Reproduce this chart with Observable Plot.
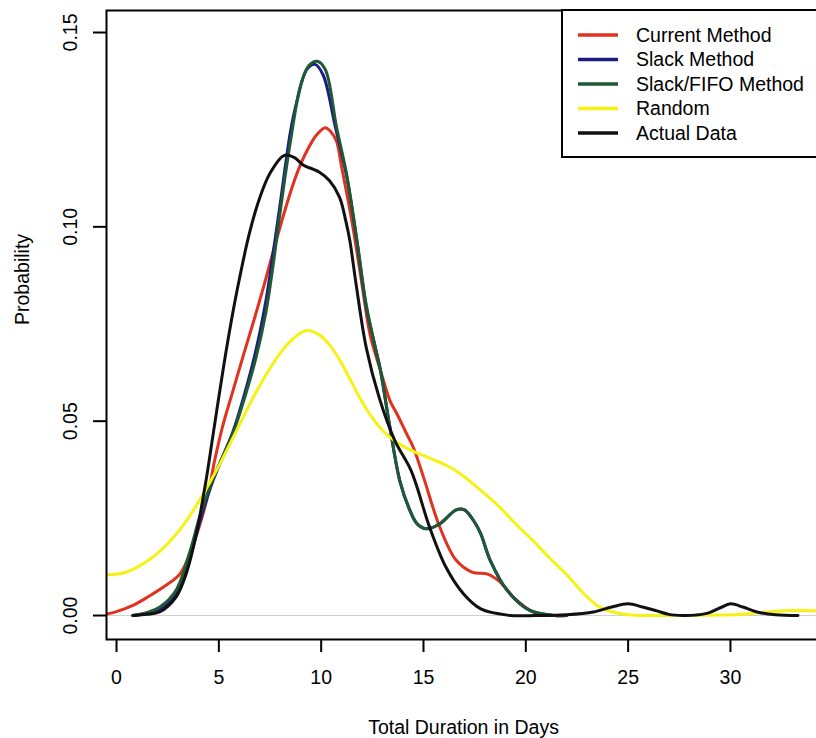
<!DOCTYPE html>
<html>
<head>
<meta charset="utf-8">
<script src="https://cdn.jsdelivr.net/npm/d3@7"></script>
<script src="https://cdn.jsdelivr.net/npm/@observablehq/plot@0.6"></script>
<style>
  html, body { margin: 0; padding: 0; background: #fff; overflow: hidden; }
  #wrap { position: relative; width: 822px; height: 738px; overflow: hidden; }
  #legend { position: absolute; left: 561px; top: 9px; }
</style>
</head>
<body>
<div id="wrap"><div id="chart"></div><svg id="legend" width="262" height="150"></svg></div>
<script>
const FONT = '"Liberation Sans", Arial, Helvetica, sans-serif';

// Series names and colours (legend order)
const seriesNames = ["Current Method", "Slack Method", "Slack/FIFO Method", "Random", "Actual Data"];
const seriesColors = ["#e0321f", "#1c1c86", "#1f5a33", "#f7f215", "#111111"];

// Axis ticks
const xTicks = [0, 5, 10, 15, 20, 25, 30];
const yTicks = [0, 0.05, 0.10, 0.15];
const xTitle = "Total Duration in Days";
const yTitle = "Probability";
const xDomain = [-0.49, 34.4];
const yDomain = [-0.00617, 0.15566];

// Density curves: [days, probability]
const currentMethod = [
  [-0.49,0.0004],[0,0.001],[0.8,0.0026],[1.6,0.005],[2.4,0.0077],[3.1,0.0107],[3.7,0.0176],
  [4.4,0.0296],[4.8,0.040],[5.2,0.049],[5.7,0.058],[6.2,0.067],[6.7,0.0757],[7.2,0.0848],
  [7.7,0.0945],[8.3,0.1055],[8.8,0.1135],[9.3,0.1195],[9.8,0.1238],[10.2,0.1255],[10.5,0.1243],
  [10.75,0.122],[11.0,0.1154],[11.5,0.1015],[12.0,0.085],[12.4,0.072],[12.9,0.063],[13.36,0.0553],
  [13.7,0.0519],[14.18,0.0467],[14.5,0.0433],[15.0,0.0356],[15.8,0.0227],[16.6,0.0142],[17.4,0.0111],
  [18.1,0.0107],[18.75,0.0086],[19.4,0.0047],[20.5,0.0005],[21.5,0],[22,0]
];
const slackMethod = [
  [0.8,0],[1.5,0.0006],[2.1,0.0016],[2.9,0.0055],[3.6,0.015],[4.06,0.024],[4.7,0.0345],[5.2,0.041],
  [5.7,0.0475],[6.2,0.056],[6.8,0.068],[7.3,0.081],[7.7,0.095],[8.0,0.106],[8.5,0.1245],[8.8,0.132],
  [9.3,0.1405],[9.7,0.1418],[10.1,0.139],[10.7,0.1255],[11.24,0.1132],[11.75,0.0962],[12.2,0.0795],
  [12.6,0.070],[12.9,0.063],[13.36,0.0483],[13.85,0.0345],[14.3,0.0275],[14.7,0.0235],[15.16,0.0223],
  [15.8,0.0236],[16.6,0.0272],[17.0,0.0272],[17.5,0.024],[17.8,0.021],[18.26,0.0142],[19.1,0.0064],
  [20.2,0.0013],[21.4,0],[22,0]
];
const slackFifoMethod = [
  [0.8,0],[1.5,0.0008],[2.1,0.0021],[2.9,0.0064],[3.6,0.0167],[4.06,0.0253],[4.7,0.035],[5.2,0.041],
  [5.7,0.047],[6.2,0.055],[6.8,0.066],[7.3,0.078],[7.7,0.092],[8.0,0.104],[8.5,0.122],[9.0,0.1365],
  [9.4,0.1415],[9.8,0.1426],[10.2,0.1405],[10.75,0.1257],[11.24,0.1136],[11.75,0.0965],[12.2,0.080],
  [12.6,0.070],[12.9,0.063],[13.36,0.0485],[13.85,0.0345],[14.3,0.0275],[14.7,0.0235],[15.16,0.0223],
  [15.8,0.0236],[16.6,0.0272],[17.0,0.0272],[17.5,0.024],[17.8,0.021],[18.26,0.0142],[19.1,0.0064],
  [20.2,0.0013],[21.4,0],[22,0]
];
const randomMethod = [
  [-0.49,0.0105],[0,0.0106],[0.5,0.0112],[1.0,0.0124],[1.5,0.014],[2.0,0.016],[2.5,0.0185],[3.0,0.0215],
  [3.5,0.025],[4.0,0.0292],[4.5,0.0337],[5.0,0.0385],[5.5,0.0437],[6.0,0.049],[6.5,0.0543],[7.0,0.0592],
  [7.5,0.0636],[8.0,0.0675],[8.5,0.0706],[9.0,0.0727],[9.3,0.0733],[9.9,0.0722],[10.4,0.0697],
  [10.9,0.0658],[11.4,0.0609],[11.9,0.0559],[12.4,0.0516],[12.9,0.0482],[13.4,0.0457],[13.9,0.0439],
  [14.4,0.0425],[15.3,0.0405],[16.2,0.0384],[16.8,0.0365],[17.8,0.0322],[18.7,0.028],[19.5,0.0236],
  [20.4,0.019],[21.2,0.0146],[22.0,0.0105],[22.8,0.0058],[23.5,0.0025],[24.0,0.0013],[24.6,0.0005],
  [25.3,0.0001],[26.5,0],[27.7,0],[29.0,0.0001],[30.2,0.0002],[31.0,0.0005],[31.8,0.0009],[32.6,0.0012],
  [33.4,0.0013],[34.4,0.0012]
];
const actualData = [
  [0.8,0],[1.5,0.0003],[2.1,0.0009],[2.9,0.0047],[3.4,0.0107],[3.9,0.021],[4.4,0.0356],[4.7,0.0459],
  [5.2,0.063],[5.6,0.0755],[6.0,0.0865],[6.5,0.0985],[7.0,0.1075],[7.5,0.1138],[8.2,0.1184],[8.7,0.1178],
  [9.1,0.1160],[9.9,0.1141],[10.4,0.1119],[10.9,0.1076],[11.2,0.1016],[11.4,0.0965],[11.7,0.0855],
  [12.2,0.069],[12.85,0.0558],[13.6,0.045],[14.4,0.0372],[15.3,0.0227],[16.1,0.0124],[16.95,0.0056],
  [17.8,0.0017],[19.1,0.0001],[20.5,0],[22,0.0002],[23.3,0.0009],[24.2,0.0022],[25.0,0.003],[25.7,0.0022],
  [26.4,0.0012],[27.0,0.0003],[27.7,0],[28.3,0.0001],[28.9,0.0006],[29.5,0.002],[30.0,0.003],[30.6,0.0022],
  [31.3,0.0009],[32.2,0.0002],[33.3,0]
];

const seriesData = [currentMethod, slackMethod, slackFifoMethod, randomMethod, actualData];

const lineMarks = seriesData.map((pts, i) =>
  Plot.line(pts, {
    x: d => d[0], y: d => d[1],
    stroke: seriesColors[i], strokeWidth: 3,
    curve: "catmull-rom", strokeLinejoin: "round", strokeLinecap: "round", clip: true
  })
);

const chart = Plot.plot({
  width: 822,
  height: 738,
  marginLeft: 106,
  marginRight: 2,
  marginTop: 10,
  marginBottom: 99,
  x: { domain: xDomain },
  y: { domain: yDomain },
  style: { fontFamily: FONT, fontSize: "19.5px", background: "white", color: "#000", maxWidth: "none" },
  marks: [
    Plot.ruleY([0], { stroke: "#d0d0d0", strokeWidth: 1 }),
    ...lineMarks,
    Plot.frame({ stroke: "#000", strokeWidth: 2 }),
    Plot.axisX({ ticks: xTicks, tickSize: 13, tickPadding: 18, strokeWidth: 2, fontSize: 19.5, label: null }),
    Plot.axisY({ ticks: yTicks, tickSize: 13, tickFormat: () => "", strokeWidth: 2, label: null }),
    Plot.text(yTicks, {
      y: d => d, text: d => d.toFixed(2), frameAnchor: "left", dx: -36,
      rotate: -90, textAnchor: "middle", lineAnchor: "middle", fontSize: 19.5
    }),
    Plot.text([yTitle], { text: d => d, frameAnchor: "left", dx: -84, rotate: -90, lineAnchor: "middle", fontSize: 19.5 }),
    Plot.text([xTitle], { text: d => d, frameAnchor: "bottom", dy: 88, lineAnchor: "middle", fontSize: 19.5 })
  ]
});
document.getElementById("chart").appendChild(chart);

// Legend (top-right box, as in the reference)
const leg = d3.select("#legend");
leg.append("rect").attr("x", 1).attr("y", 1).attr("width", 262).attr("height", 147)
  .attr("fill", "#fff").attr("stroke", "#000").attr("stroke-width", 2);
seriesNames.forEach((name, i) => {
  const cy = 26 + i * 24.5;
  leg.append("line").attr("x1", 17).attr("x2", 57).attr("y1", cy).attr("y2", cy)
    .attr("stroke", seriesColors[i]).attr("stroke-width", 3.5);
  leg.append("text").attr("x", 75).attr("y", cy).attr("dy", "0.35em")
    .attr("font-family", FONT).attr("font-size", 19.5).attr("fill", "#000").text(name);
});
</script>
</body>
</html>
